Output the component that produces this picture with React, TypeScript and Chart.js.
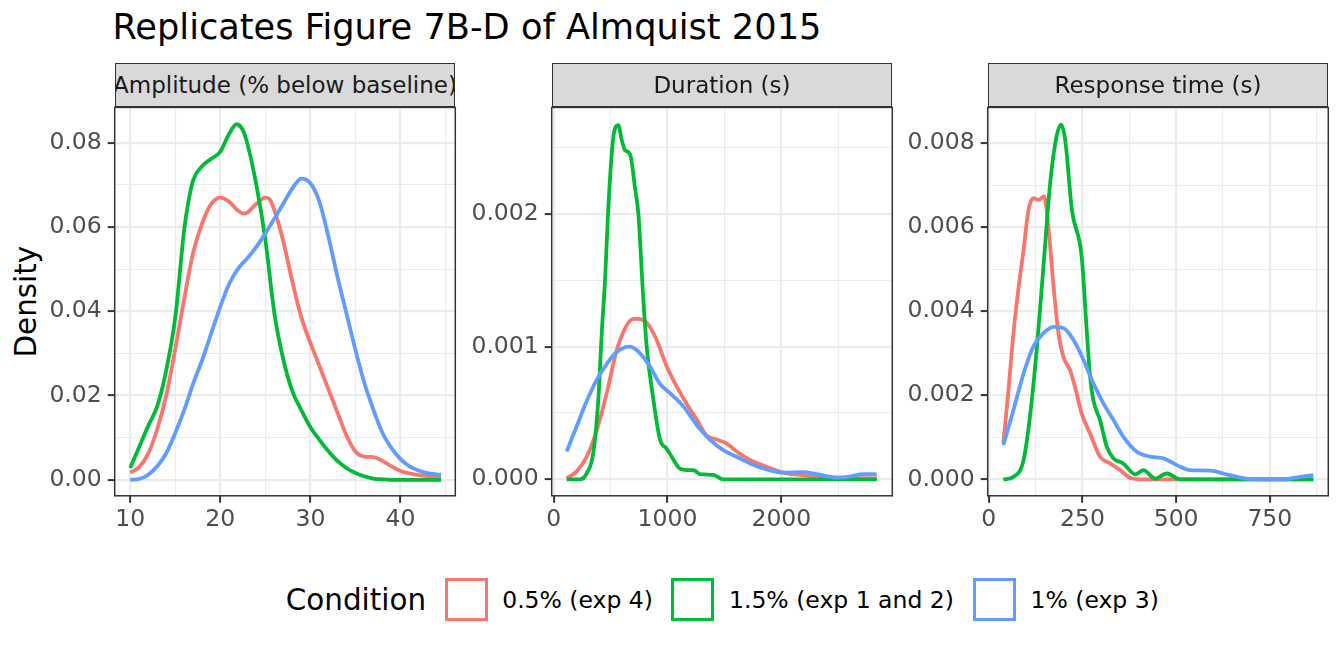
import React, { useEffect, useRef } from "react";
import { Chart, registerables } from "chart.js";

Chart.register(...registerables);

const TITLE = "Replicates Figure 7B-D of Almquist 2015";
const Y_TITLE = "Density";
const LEGEND_TITLE = "Condition";
const CONDITIONS = ["0.5% (exp 4)", "1.5% (exp 1 and 2)", "1% (exp 3)"];
const COLORS = ["#F8766D", "#00BA38", "#619CFF"];
const PANEL_TITLES = ["Amplitude (% below baseline)", "Duration (s)", "Response time (s)"];

// ---- Amplitude (% below baseline)
const AMP_RED_X = [10, 11, 12, 13, 14, 15, 16, 17, 18, 19, 20, 21, 22, 22.7, 23, 24, 25, 25.5, 26, 27, 28, 29, 30, 31, 32, 33, 34, 35, 36, 37, 38, 39, 40, 41, 42, 43, 44.5];
const AMP_RED_Y = [0.0017, 0.003, 0.0062, 0.012, 0.02, 0.031, 0.043, 0.054, 0.061, 0.0655, 0.067, 0.066, 0.0638, 0.0632, 0.0634, 0.0655, 0.067, 0.0665, 0.064, 0.0565, 0.047, 0.0385, 0.0325, 0.027, 0.0215, 0.016, 0.0105, 0.0067, 0.0055, 0.0054, 0.0045, 0.0032, 0.0021, 0.0015, 0.0011, 0.0009, 0.0008];
const AMP_GREEN_X = [10, 11, 12, 13, 14, 15, 16, 16.5, 17, 18, 19, 20, 21, 21.8, 22.5, 23, 24, 25, 26, 27, 28, 29, 30, 31, 32, 33, 34, 35, 36, 37, 38, 39, 44.5];
const AMP_GREEN_Y = [0.0028, 0.0078, 0.0128, 0.0175, 0.026, 0.0385, 0.0595, 0.0665, 0.0712, 0.0745, 0.0762, 0.0779, 0.0822, 0.0844, 0.083, 0.0798, 0.07, 0.057, 0.0395, 0.0285, 0.021, 0.0165, 0.0125, 0.0095, 0.0068, 0.0045, 0.0028, 0.0016, 0.0008, 0.0003, 0.0001, 0, 0];
const AMP_BLUE_X = [10, 11, 12, 13, 14, 15, 16, 17, 18, 19, 20, 21, 22, 23, 24, 25, 26, 27, 28, 29, 30, 31, 32, 33, 34, 35, 36, 37, 38, 39, 40, 41, 42, 43, 44, 44.5];
const AMP_BLUE_Y = [0, 0.0002, 0.0012, 0.0032, 0.0063, 0.0111, 0.0166, 0.0229, 0.0285, 0.0348, 0.0411, 0.0466, 0.0502, 0.0526, 0.0553, 0.0585, 0.062, 0.0656, 0.0692, 0.0715, 0.0704, 0.066, 0.0577, 0.0482, 0.0395, 0.0308, 0.0229, 0.0166, 0.0111, 0.0075, 0.0049, 0.0032, 0.0022, 0.0016, 0.0013, 0.0012];
const AMP_X_MAJOR = [10, 20, 30, 40];
const AMP_X_LABELS = ["10", "20", "30", "40"];
const AMP_X_MINOR = [15, 25, 35, 45];
const AMP_Y_MAJOR = [0, 0.02, 0.04, 0.06, 0.08];
const AMP_Y_LABELS = ["0.00", "0.02", "0.04", "0.06", "0.08"];
const AMP_Y_MINOR = [0.01, 0.03, 0.05, 0.07];
const AMP_X_RANGE = [8.28, 46.08];
const AMP_Y_RANGE = [-0.0038, 0.0884];

// ---- Duration (s)
const DUR_RED_X = [114, 202, 290, 378, 466, 553, 641, 700, 729, 817, 905, 993, 1081, 1168, 1256, 1344, 1432, 1520, 1608, 1725, 1871, 2018, 2164, 2310, 2603, 2838];
const DUR_RED_Y = [0.0000075, 0.00006, 0.00017, 0.00037, 0.00065, 0.00097, 0.00116, 0.00121, 0.00121, 0.00118, 0.00105, 0.00085, 0.0007, 0.00057, 0.00045, 0.00033, 0.0003, 0.00027, 0.00021, 0.000146, 0.000095, 0.00005, 0.000033, 0.00002, 0.00001, 0.0000075];
const DUR_GREEN_X = [114, 231, 290, 348, 392, 422, 451, 480, 524, 568, 597, 627, 671, 714, 744, 788, 817, 876, 934, 993, 1051, 1110, 1168, 1227, 1285, 1403, 1490, 2838];
const DUR_GREEN_Y = [0, 0, 0.000045, 0.0002, 0.0006, 0.0011, 0.0015, 0.00205, 0.00258, 0.00267, 0.00256, 0.00248, 0.00245, 0.0022, 0.002, 0.00135, 0.001, 0.0006, 0.0003, 0.00023, 0.00015, 0.00008, 0.00007, 0.00007, 0.00004, 0.000033, 0, 0];
const DUR_BLUE_X = [114, 202, 290, 378, 466, 553, 671, 759, 846, 934, 1022, 1139, 1256, 1373, 1490, 1608, 1725, 1871, 2018, 2193, 2310, 2486, 2603, 2720, 2838];
const DUR_BLUE_Y = [0.00021, 0.0004, 0.00059, 0.00075, 0.00087, 0.00096, 0.001, 0.00095, 0.00085, 0.00072, 0.00065, 0.00055, 0.00041, 0.0003, 0.00022, 0.00017, 0.00012, 0.000075, 0.00005, 0.000055, 0.00004, 0.000013, 0.00002, 0.00004, 0.000038];
const DUR_X_MAJOR = [0, 1000, 2000];
const DUR_X_LABELS = ["0", "1000", "2000"];
const DUR_X_MINOR = [500, 1500, 2500];
const DUR_Y_MAJOR = [0, 0.001, 0.002];
const DUR_Y_LABELS = ["0.000", "0.001", "0.002"];
const DUR_Y_MINOR = [0.0005, 0.0015, 0.0025];
const DUR_X_RANGE = [-17.6, 2975];
const DUR_Y_RANGE = [-0.000124, 0.002803];

// ---- Response time (s)
const RT_RED_X = [39, 52, 66, 79, 93, 106, 119, 133, 148, 159, 173, 186, 199, 217, 230, 248, 270, 297, 324, 351, 377, 413, 866];
const RT_RED_Y = [0.00086, 0.00205, 0.00348, 0.00451, 0.00546, 0.0064, 0.00669, 0.00665, 0.00673, 0.00602, 0.00459, 0.00348, 0.00292, 0.0026, 0.00221, 0.00157, 0.0011, 0.00054, 0.00038, 0.00022, 0.00004, 0, 0];
const RT_GREEN_X = [39, 66, 93, 110, 128, 146, 164, 181, 193, 204, 222, 248, 262, 270, 279, 297, 315, 333, 359, 391, 413, 444, 475, 511, 866];
const RT_GREEN_Y = [0, 0.00006, 0.00046, 0.00149, 0.00308, 0.00506, 0.00705, 0.00816, 0.00844, 0.00808, 0.00641, 0.0053, 0.00348, 0.0025, 0.00189, 0.00141, 0.00078, 0.0005, 0.00038, 0.00012, 0.00022, 0.00002, 0.00014, 0, 0];
const RT_BLUE_X = [39, 66, 93, 119, 146, 173, 199, 226, 253, 279, 306, 333, 359, 395, 431, 466, 502, 537, 591, 626, 671, 715, 786, 831, 866];
const RT_BLUE_Y = [0.00082, 0.00165, 0.00252, 0.00316, 0.00348, 0.00363, 0.0036, 0.00332, 0.00284, 0.00229, 0.00181, 0.00141, 0.00102, 0.00066, 0.00054, 0.0005, 0.00034, 0.00022, 0.00021, 0.00014, 0.00004, 0, 0, 0.00006, 0.0001];
const RT_X_MAJOR = [0, 250, 500, 750];
const RT_X_LABELS = ["0", "250", "500", "750"];
const RT_X_MINOR = [125, 375, 625, 875];
const RT_Y_MAJOR = [0, 0.002, 0.004, 0.006, 0.008];
const RT_Y_LABELS = ["0.000", "0.002", "0.004", "0.006", "0.008"];
const RT_Y_MINOR = [0.001, 0.003, 0.005, 0.007];
const RT_X_RANGE = [-2.7, 906];
const RT_Y_RANGE = [-0.00039, 0.00885];

const PANELS = [
  {
    series: [[AMP_RED_X, AMP_RED_Y], [AMP_GREEN_X, AMP_GREEN_Y], [AMP_BLUE_X, AMP_BLUE_Y]],
    xMajor: AMP_X_MAJOR, xLabels: AMP_X_LABELS, xMinor: AMP_X_MINOR,
    yMajor: AMP_Y_MAJOR, yLabels: AMP_Y_LABELS, yMinor: AMP_Y_MINOR,
    xRange: AMP_X_RANGE, yRange: AMP_Y_RANGE,
  },
  {
    series: [[DUR_RED_X, DUR_RED_Y], [DUR_GREEN_X, DUR_GREEN_Y], [DUR_BLUE_X, DUR_BLUE_Y]],
    xMajor: DUR_X_MAJOR, xLabels: DUR_X_LABELS, xMinor: DUR_X_MINOR,
    yMajor: DUR_Y_MAJOR, yLabels: DUR_Y_LABELS, yMinor: DUR_Y_MINOR,
    xRange: DUR_X_RANGE, yRange: DUR_Y_RANGE,
  },
  {
    series: [[RT_RED_X, RT_RED_Y], [RT_GREEN_X, RT_GREEN_Y], [RT_BLUE_X, RT_BLUE_Y]],
    xMajor: RT_X_MAJOR, xLabels: RT_X_LABELS, xMinor: RT_X_MINOR,
    yMajor: RT_Y_MAJOR, yLabels: RT_Y_LABELS, yMinor: RT_Y_MINOR,
    xRange: RT_X_RANGE, yRange: RT_Y_RANGE,
  },
];

// ---- layout
const FONT = '"DejaVu Sans", "Noto Sans", sans-serif';
const TICK_SIZE = 23.5;
const STRIP_SIZE = 23;
const AXIS_TITLE_SIZE = 29.4;
const TITLE_SIZE = 35.2;
const PLOT_LEFTS = [114.7, 551.7, 987.7];
const PLOT_W = 340.6;
const PLOT_TOP = 107.4;
const PLOT_BOTTOM = 495.8;
const STRIP_TOP = 62.7;
const CANVAS_TOP = 95;
const CANVAS_H = 450;
const CANVAS_W = 434;
const Y_AXIS_GAP = 80;

const isIn = (v: number, arr: number[]) => arr.some((a) => Math.abs(a - v) < 1e-9);

const borderPlugin = {
  id: "panelBorder",
  afterDraw(chart: any) {
    const { ctx, chartArea } = chart;
    ctx.save();
    ctx.strokeStyle = "#333333";
    ctx.lineWidth = 1.5;
    ctx.strokeRect(chartArea.left, chartArea.top, chartArea.right - chartArea.left, chartArea.bottom - chartArea.top);
    ctx.restore();
  },
};

function axisOptions(major: number[], labels: string[], minor: number[], range: number[], isX: boolean, fitSize: number) {
  return {
    type: "linear",
    min: range[0],
    max: range[1],
    bounds: "data",
    afterBuildTicks: (scale: any) => {
      scale.ticks = [...major, ...minor].sort((a, b) => a - b).map((v) => ({ value: v }));
    },
    afterFit: (scale: any) => {
      if (isX) scale.height = fitSize;
      else scale.width = fitSize;
      scale.paddingTop = 0;
      scale.paddingBottom = 0;
      scale.paddingLeft = 0;
      scale.paddingRight = 0;
    },
    ticks: {
      autoSkip: false,
      maxRotation: 0,
      minRotation: 0,
      padding: isX ? 3 : 6,
      color: "#4D4D4D",
      font: { family: FONT, size: TICK_SIZE },
      callback: (value: number) => {
        const i = major.findIndex((m) => Math.abs(m - value) < 1e-9);
        return i >= 0 ? labels[i] : "";
      },
    },
    grid: {
      color: "#EBEBEB",
      lineWidth: (ctx: any) => (ctx.tick && isIn(ctx.tick.value, major) ? 2.2 : 1.1),
      tickColor: (ctx: any) => (ctx.tick && isIn(ctx.tick.value, major) ? "#333333" : "rgba(0,0,0,0)"),
      tickLength: 7,
      tickWidth: 2,
      drawTicks: true,
      drawOnChartArea: true,
    },
    border: { display: false },
  };
}

function Panel({ index }: { index: number }) {
  const ref = useRef<HTMLCanvasElement>(null);
  const p = PANELS[index];
  const canvasLeft = Math.floor(PLOT_LEFTS[index]) - Y_AXIS_GAP;
  const yAxisW = PLOT_LEFTS[index] - canvasLeft;
  const padRight = CANVAS_W - yAxisW - PLOT_W;
  const padTop = PLOT_TOP - CANVAS_TOP;
  const xAxisH = CANVAS_TOP + CANVAS_H - PLOT_BOTTOM;

  useEffect(() => {
    if (!ref.current) return;
    const chart = new Chart(ref.current, {
      type: "line",
      data: {
        datasets: p.series.map((s, i) => ({
          label: CONDITIONS[i],
          data: s[0].map((x, j) => ({ x, y: s[1][j] })),
          borderColor: COLORS[i],
          backgroundColor: COLORS[i],
          borderWidth: 3.8,
          pointRadius: 0,
          fill: false,
          cubicInterpolationMode: "monotone",
          order: 3 - i,
        })),
      },
      options: {
        animation: false,
        responsive: false,
        maintainAspectRatio: false,
        devicePixelRatio: 1,
        events: [],
        layout: { padding: { left: 0, top: padTop, right: padRight, bottom: 0 } },
        plugins: { legend: { display: false }, tooltip: { enabled: false }, title: { display: false } },
        scales: {
          x: axisOptions(p.xMajor, p.xLabels, p.xMinor, p.xRange, true, xAxisH),
          y: axisOptions(p.yMajor, p.yLabels, p.yMinor, p.yRange, false, yAxisW),
        },
      } as any,
      plugins: [borderPlugin],
    });
    return () => chart.destroy();
  }, []);

  return (
    <canvas
      ref={ref}
      width={CANVAS_W}
      height={CANVAS_H}
      style={{ position: "absolute", left: canvasLeft, top: CANVAS_TOP, width: CANVAS_W, height: CANVAS_H }}
    />
  );
}

function Strip({ index }: { index: number }) {
  return (
    <div
      style={{
        position: "absolute",
        left: PLOT_LEFTS[index],
        top: STRIP_TOP,
        width: PLOT_W,
        height: PLOT_TOP - STRIP_TOP,
        boxSizing: "border-box",
        border: "1.5px solid #333333",
        background: "#D9D9D9",
        overflow: "hidden",
        display: "flex",
        alignItems: "center",
        justifyContent: "center",
        whiteSpace: "nowrap",
        fontSize: STRIP_SIZE,
        lineHeight: 1,
        color: "#1A1A1A",
      }}
    >
      <span style={{ flexShrink: 0 }}>{PANEL_TITLES[index]}</span>
    </div>
  );
}

const LEGEND_BOX_LEFTS = [444.5, 671, 972.5];
const LEGEND_TEXT_LEFTS = [502.2, 729, 1030.5];

export default function App() {
  return (
    <div
      style={{
        position: "fixed",
        left: 0,
        top: 0,
        width: 1344,
        height: 652,
        background: "#ffffff",
        fontFamily: FONT,
        overflow: "hidden",
      }}
    >
      <div style={{ position: "absolute", left: 112.5, top: 38.3 - 0.846 * TITLE_SIZE, fontSize: TITLE_SIZE, lineHeight: 1, color: "#000", whiteSpace: "nowrap" }}>
        {TITLE}
      </div>
      <div
        style={{
          position: "absolute",
          left: 27.2 - 100,
          top: 301.5 - AXIS_TITLE_SIZE / 2,
          width: 200,
          height: AXIS_TITLE_SIZE,
          fontSize: AXIS_TITLE_SIZE,
          lineHeight: 1,
          textAlign: "center",
          transform: "rotate(-90deg)",
          color: "#000",
          whiteSpace: "nowrap",
        }}
      >
        {Y_TITLE}
      </div>
      {[0, 1, 2].map((i) => (
        <Panel key={"p" + i} index={i} />
      ))}
      {[0, 1, 2].map((i) => (
        <Strip key={"s" + i} index={i} />
      ))}
      <div style={{ position: "absolute", left: 285.8, top: 600 - 0.481 * AXIS_TITLE_SIZE, fontSize: AXIS_TITLE_SIZE, lineHeight: 1, color: "#000", whiteSpace: "nowrap" }}>
        {LEGEND_TITLE}
      </div>
      {CONDITIONS.map((c, i) => (
        <React.Fragment key={"l" + i}>
          <div
            style={{
              position: "absolute",
              left: LEGEND_BOX_LEFTS[i],
              top: 578,
              width: 43,
              height: 43,
              boxSizing: "border-box",
              border: `3.5px solid ${COLORS[i]}`,
              background: "#fff",
            }}
          />
          <div
            style={{
              position: "absolute",
              left: LEGEND_TEXT_LEFTS[i],
              top: 600 - 0.481 * TICK_SIZE,
              fontSize: TICK_SIZE,
              lineHeight: 1,
              color: "#000",
              whiteSpace: "nowrap",
            }}
          >
            {c}
          </div>
        </React.Fragment>
      ))}
    </div>
  );
}
